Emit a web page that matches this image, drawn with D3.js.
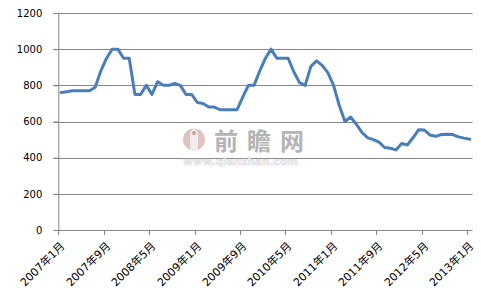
<!DOCTYPE html>
<html>
<head>
<meta charset="utf-8">
<script src="https://cdn.jsdelivr.net/npm/d3@7"></script>
<style>
  html, body { margin: 0; padding: 0; background: #fff; }
  svg { display: block; }
</style>
</head>
<body>
<div id="chart"></div>
<script>
// 月度价格走势 2007年1月 - 2013年1月
const startYear = 2007;
const values = [
  760, 765, 770, 770, 770, 770, 790, 880, 950, 1000, 1000, 950,
  950, 750, 750, 800, 750, 820, 800, 800, 810, 800, 750, 750,
  705, 700, 680, 680, 665, 665, 665, 665, 735, 800, 800, 880,
  950, 1000, 950, 950, 950, 875, 815, 800, 905, 935, 910, 870,
  800, 690, 600, 625, 585, 540, 510, 500, 486, 456, 452, 443,
  478, 470, 510, 555, 553, 525, 518, 528, 529, 528, 515, 508,
  502
];
const tickLabels = ["2007年1月", "2007年9月", "2008年5月", "2009年1月", "2009年9月",
  "2010年5月", "2011年1月", "2011年9月", "2012年5月", "2013年1月"];
const yTicks = [0, 200, 400, 600, 800, 1000, 1200];

const months = values.map((v, i) => `${startYear + Math.floor(i / 12)}年${i % 12 + 1}月`);

function drawChart() {
    const width = 481, height = 297;
    const left = 58.3, right = 472.6, top = 13, bottom = 230;
    const font = "'DejaVu Sans', 'Noto Sans CJK SC', sans-serif";

    const svg = d3.select("#chart").append("svg")
        .attr("width", width)
        .attr("height", height);

    const x = d3.scaleBand().domain(months).range([left, right]).padding(0);
    const y = d3.scaleLinear().domain([0, 1200]).range([bottom, top]);

    // 网格线
    svg.append("g")
        .selectAll("line")
        .data(yTicks.slice(1))
        .enter().append("line")
        .attr("x1", left - 5).attr("x2", right)
        .attr("y1", d => Math.round(y(d)) + 0.5)
        .attr("y2", d => Math.round(y(d)) + 0.5)
        .attr("stroke", "#868686").attr("stroke-width", 1);

    // 水印
    const wm = svg.append("g").attr("class", "watermark");
    wm.append("circle").attr("cx", 194).attr("cy", 139.5).attr("r", 11)
        .attr("fill", "#dcbcba").attr("opacity", 0.9);
    wm.append("path")
        .attr("d", "M190,150 L190,136 Q190,130 194,129 Q198,130 198,136 L198,150 Z")
        .attr("fill", "#f3ecec");
    wm.append("circle").attr("cx", 194).attr("cy", 133).attr("r", 2).attr("fill", "#c9a09e");
    wm.append("text")
        .attr("x", 214).attr("y", 150)
        .attr("font-family", "'Noto Sans CJK SC', sans-serif")
        .attr("font-size", 24).attr("font-weight", "bold")
        .attr("letter-spacing", 9)
        .attr("fill", "#b4b4b4")
        .text("前瞻网");
    wm.append("text")
        .attr("x", 183).attr("y", 165)
        .attr("font-family", "'DejaVu Sans', sans-serif")
        .attr("font-size", 10).attr("font-weight", "bold")
        .attr("textLength", 115).attr("lengthAdjust", "spacingAndGlyphs")
        .attr("fill", "#f4f4f4").attr("stroke", "#dadada").attr("stroke-width", 0.6)
        .text("www.qianzhan.com");

    // Y轴
    const yAxis = svg.append("g")
        .attr("transform", `translate(${left},0)`)
        .call(d3.axisLeft(y).tickValues(yTicks).tickFormat(d3.format("d")).tickSize(5).tickPadding(11));
    yAxis.select(".domain").attr("stroke", "#868686");
    yAxis.selectAll(".tick line").attr("stroke", "#868686");
    yAxis.selectAll("text")
        .attr("font-family", font).attr("font-size", 10).attr("fill", "#000");

    // X轴
    const xAxis = svg.append("g");
    xAxis.append("line")
        .attr("x1", left).attr("x2", right)
        .attr("y1", bottom + 0.5).attr("y2", bottom + 0.5)
        .attr("stroke", "#868686");
    const ticks = xAxis.selectAll(".xtick")
        .data(tickLabels)
        .enter().append("g")
        .attr("class", "xtick")
        .attr("transform", d => `translate(${Math.round(x(d)) + 0.5},${bottom})`);
    ticks.append("line").attr("y1", 0).attr("y2", 5).attr("stroke", "#868686");
    ticks.append("text")
        .attr("transform", "translate(4,14) rotate(-45)")
        .attr("text-anchor", "end")
        .attr("dy", "0.35em")
        .attr("font-family", font).attr("font-size", 11).attr("fill", "#000")
        .text(d => d);

    // 折线
    const line = d3.line()
        .x((d, i) => x(months[i]) + x.bandwidth() / 2)
        .y(d => y(d));
    svg.append("path")
        .datum(values)
        .attr("d", line)
        .attr("fill", "none")
        .attr("stroke", "#4a7ebb")
        .attr("stroke-width", 3)
        .attr("stroke-linejoin", "round")
        .attr("stroke-linecap", "round");
}

drawChart();
</script>
</body>
</html>
